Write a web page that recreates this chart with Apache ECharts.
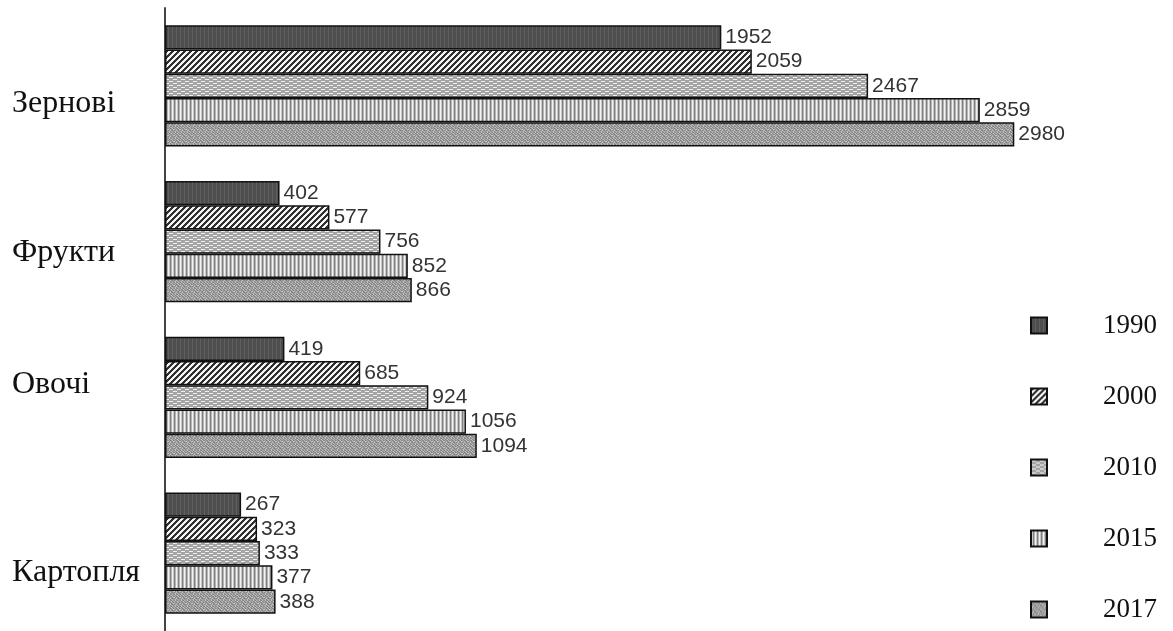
<!DOCTYPE html>
<html>
<head>
<meta charset="utf-8">
<script src="https://cdn.jsdelivr.net/npm/echarts@6/dist/echarts.min.js"></script>
<style>html,body{margin:0;padding:0;background:#fff}#c{width:1173px;height:631px}</style>
</head>
<body>
<div id="c"></div>
<script>
const categories = ['Зернові', 'Фрукти', 'Овочі', 'Картопля'];
const years = ['1990', '2000', '2010', '2015', '2017'];
const s1990 = [1952, 402, 419, 267];
const s2000 = [2059, 577, 685, 323];
const s2010 = [2467, 756, 924, 333];
const s2015 = [2859, 852, 1056, 377];
const s2017 = [2980, 866, 1094, 388];
const seriesValues = [s1990, s2000, s2010, s2015, s2017];

function makePattern(w, h, fn) {
  const c = document.createElement('canvas');
  c.width = w; c.height = h;
  const ctx = c.getContext('2d');
  const img = ctx.createImageData(w, h);
  for (let y = 0; y < h; y++) for (let x = 0; x < w; x++) {
    const v = fn(x, y);
    const i = (y * w + x) * 4;
    img.data[i] = v; img.data[i + 1] = v; img.data[i + 2] = v; img.data[i + 3] = 255;
  }
  ctx.putImageData(img, 0, 0);
  return { image: c, repeat: 'repeat' };
}
const speckle = [
  [0x8c, 0xc4, 0x90, 0x7e, 0xb8, 0x94],
  [0xb0, 0x86, 0x9c, 0xcc, 0x88, 0xa0],
  [0x94, 0xa8, 0x80, 0x98, 0xbc, 0x82],
  [0xc8, 0x8a, 0xb4, 0x84, 0x96, 0xc0],
  [0x86, 0x9e, 0xc6, 0x92, 0x7c, 0xa6],
  [0xa4, 0xbe, 0x88, 0xb2, 0xa0, 0x8e]
];
const patterns = [
  makePattern(4, 4, (x) => x === 0 ? 0x60 : 0x4e),
  makePattern(6, 6, (x, y) => ((x + y) % 6) < 3 ? 0x30 : 0xf4),
  makePattern(8, 4, (x, y) => {
    if (y === 1 && x >= 1 && x <= 4) return 0xf0;
    if (y === 3 && (x >= 5 || x === 0)) return 0xf0;
    return 0xa4;
  }),
  makePattern(4, 1, (x) => [0xf2, 0xc8, 0x80, 0xb4][x]),
  makePattern(6, 6, (x, y) => speckle[y][x])
];

const labelOffsets = [18, 11, -13, 19];
const rich = {};
labelOffsets.forEach((o, i) => {
  rich['c' + i] = {
    fontFamily: 'Liberation Serif', fontSize: 32, color: '#111',
    padding: o >= 0 ? [2 * o, 0, 0, 0] : [0, 0, -2 * o, 0]
  };
});

const chart = echarts.init(document.getElementById('c'), null, { renderer: 'canvas' });
chart.setOption({
  animation: false,
  backgroundColor: '#fff',
  legend: {
    orient: 'vertical',
    left: 1025, top: 307,
    itemWidth: 16, itemHeight: 16,
    itemGap: 44,
    icon: 'rect',
    textStyle: { fontFamily: 'Liberation Serif', fontSize: 27, color: '#111', padding: [0, 0, 0, 51] },
    data: years
  },
  grid: { left: 165, right: 153, top: 8, height: 630, containLabel: false },
  xAxis: { type: 'value', min: 0, max: 3000, show: false },
  yAxis: {
    type: 'category', data: categories, inverse: true,
    axisLine: { show: true, lineStyle: { color: '#444', width: 2 } },
    axisTick: { show: false },
    axisLabel: {
      align: 'left', margin: 153,
      formatter: (v) => '{c' + categories.indexOf(v) + '|' + v + '}',
      rich: rich
    }
  },
  series: years.map((y, i) => ({
    name: y, type: 'bar', data: seriesValues[i],
    barGap: '0%', barCategoryGap: '22%',
    itemStyle: { color: patterns[i], borderColor: '#111', borderWidth: 1.5 },
    label: {
      show: true, position: 'right', distance: 4,
      fontFamily: 'Liberation Sans', fontSize: 21, color: '#333'
    }
  }))
});
</script>
</body>
</html>
